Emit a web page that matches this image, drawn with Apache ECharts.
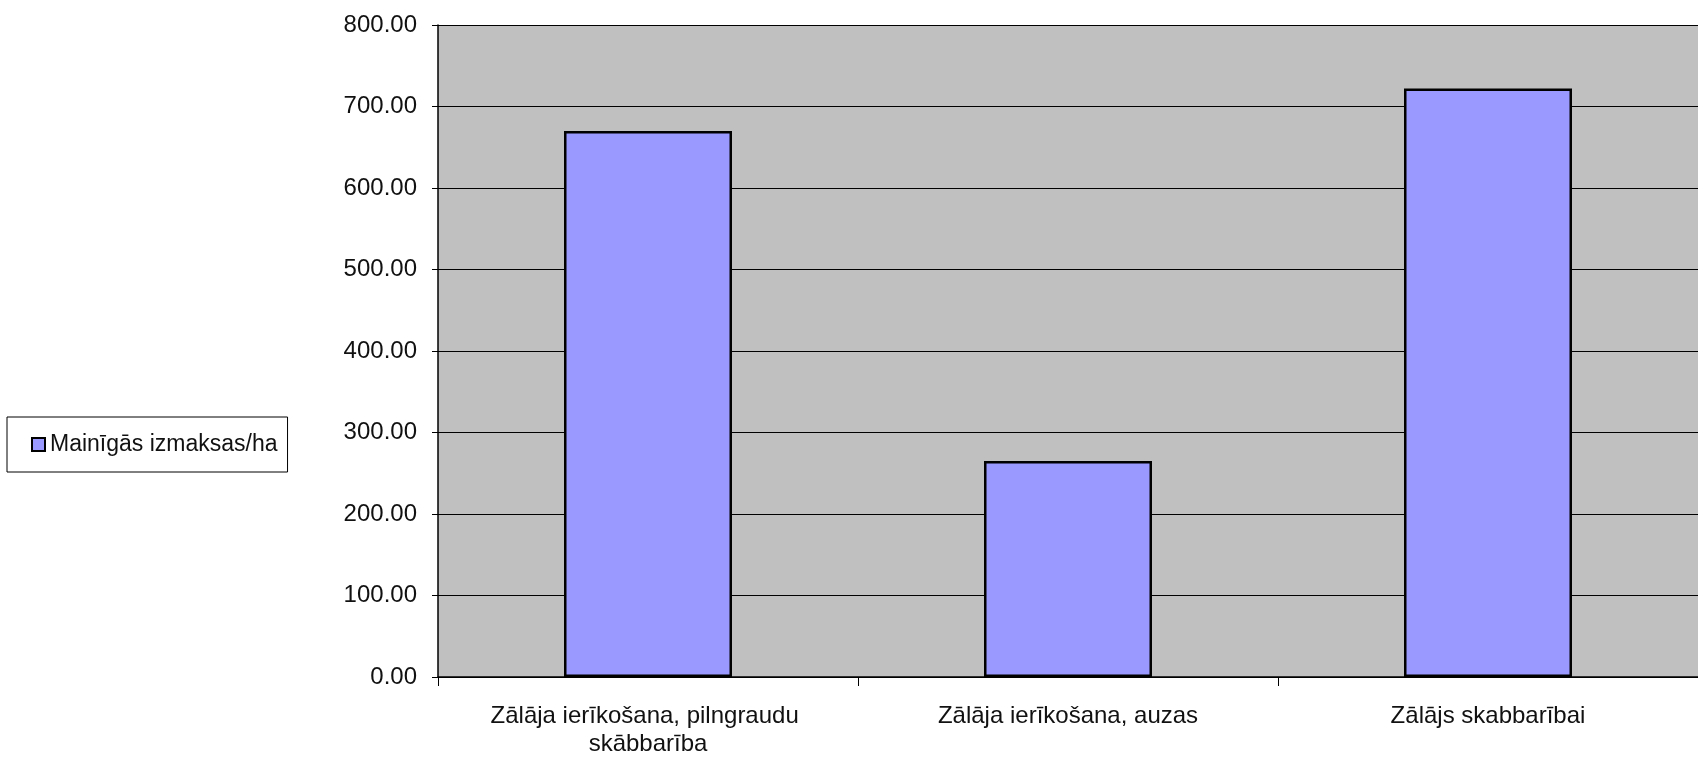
<!DOCTYPE html>
<html>
<head>
<meta charset="utf-8">
<script src="https://cdn.jsdelivr.net/npm/echarts@6/dist/echarts.min.js"></script>
<style>
html,body{margin:0;padding:0;background:#fff;}
#chart{width:1698px;height:758px;}
</style>
</head>
<body>
<div id="chart"></div>
<script>
const categories = ["Zālāja ierīkošana, pilngraudu skābbarība", "Zālāja ierīkošana, auzas", "Zālājs skabbarībai"];
const seriesName = "Mainīgās izmaksas/ha";
const values = [670, 265, 722];
const yTicks = [0, 100, 200, 300, 400, 500, 600, 700, 800];

const chart = echarts.init(document.getElementById('chart'), null, {renderer: 'canvas'});
const font = 'Liberation Sans, Arial, sans-serif';
chart.setOption({
  animation: false,
  backgroundColor: '#ffffff',
  legend: {
    show: true,
    left: 7,
    top: 417,
    orient: 'vertical',
    data: [seriesName],
    icon: 'rect',
    itemWidth: 13,
    itemHeight: 13,
    padding: [15, 10, 15, 24],
    borderColor: '#000',
    borderWidth: 1,
    backgroundColor: '#fff',
    itemStyle: {borderColor: '#000', borderWidth: 2},
    textStyle: {fontFamily: font, fontSize: 23, color: '#111', lineHeight: 25}
  },
  grid: {
    left: 438,
    top: 25,
    width: 1266,
    height: 654,
    show: true,
    backgroundColor: '#C0C0C0',
    borderWidth: 0,
    containLabel: false
  },
  xAxis: {
    type: 'category',
    data: categories,
    boundaryGap: true,
    axisLine: {show: true, lineStyle: {color: '#000', width: 1.5}},
    axisTick: {show: true, length: 9, lineStyle: {color: '#000', width: 1}},
    axisLabel: {
      fontFamily: font, fontSize: 24, color: '#111', margin: 25, lineHeight: 28,
      width: 380, overflow: 'break', interval: 0
    },
    splitLine: {show: false}
  },
  yAxis: {
    type: 'value',
    min: yTicks[0],
    max: yTicks[yTicks.length - 1],
    interval: 100,
    axisLine: {show: true, lineStyle: {color: '#000', width: 1.5}},
    axisTick: {show: true, length: 6, lineStyle: {color: '#000', width: 1}},
    axisLabel: {
      fontFamily: font, fontSize: 24, color: '#111', margin: 21,
      formatter: v => v.toFixed(2)
    },
    splitLine: {show: true, lineStyle: {color: '#000', width: 1}}
  },
  series: [{
    name: seriesName,
    type: 'bar',
    data: values,
    barCategoryGap: '60%',
    itemStyle: {color: '#9999FF', borderColor: '#000', borderWidth: 2.5}
  }]
});
</script>
</body>
</html>
